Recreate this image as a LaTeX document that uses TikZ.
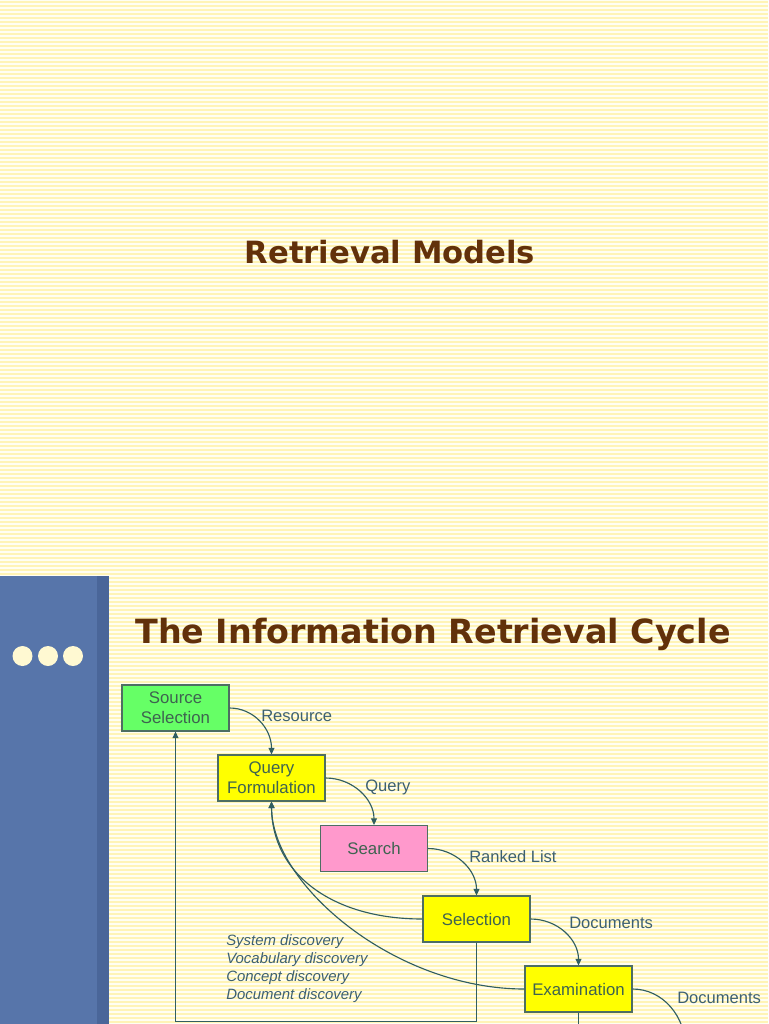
\documentclass[tikz,border=0pt]{standalone}
\usepackage{fontspec}
\setmainfont{Liberation Sans}
\newfontfamily\titlefont{DejaVu Sans}
\usetikzlibrary{arrows.meta}
\definecolor{bgc}{HTML}{FFFEF2}
\definecolor{stripe}{HTML}{FFF4B6}
\definecolor{barA}{HTML}{5775AA}
\definecolor{barB}{HTML}{4A6699}
\definecolor{dotc}{HTML}{FFF9D2}
\definecolor{titlec}{HTML}{62310A}
\definecolor{linec}{HTML}{315E60}
\definecolor{boxline}{HTML}{4E6E62}
\definecolor{boxtext}{HTML}{3E6350}
\definecolor{labtext}{HTML}{3D6070}
\definecolor{greenbox}{HTML}{66FF66}
\definecolor{yellowbox}{HTML}{FFFF00}
\definecolor{pinkbox}{HTML}{FF99CC}
\begin{document}
\begin{tikzpicture}[x=0.75pt,y=-0.75pt,
  box/.style={draw=boxline, line width=0.8pt, minimum width=80.25pt, minimum height=34.5pt,
    inner sep=0pt, align=center, font=\fontsize{12.6}{15}\selectfont, text=boxtext},
  lab/.style={anchor=west, inner sep=0pt, font=\fontsize{12.4}{15}\selectfont, text=labtext},
  disc/.style={anchor=west, inner sep=0pt, font=\fontsize{11.2}{13.5}\selectfont\itshape, text=labtext},
  arr/.style={draw=linec, line width=0.85pt, -{Triangle[length=5pt,width=4.5pt]}},
  plain/.style={draw=linec, line width=0.85pt},
  ttl/.style={inner sep=0pt, font=\titlefont\bfseries\fontsize{23}{28}\selectfont, text=titlec}]
\useasboundingbox (0,0) rectangle (768,1024);
\clip (0,0) rectangle (768,1024);
% background
\fill[bgc] (0,0) rectangle (768,1024);
\foreach \i in {0,...,255} \fill[stripe] (0,{4*\i+1}) rectangle (768,{4*\i+2.8});
% top slide title
\node[ttl] (t1) at (390,252) {Retrieval Models};
% side bar of second slide
\fill[barA] (0,576) rectangle (97,1024);
\fill[barB] (97,576) rectangle (109,1024);
\fill[dotc] (22.5,656) circle (10);
\fill[dotc] (48,656) circle (10);
\fill[dotc] (73,656) circle (10);
\node[ttl, font=\titlefont\bfseries\fontsize{25}{30}\selectfont] (t2) at (433,634) {The Information Retrieval Cycle};
% boxes
\node[box, fill=greenbox] (src) at (175.5,708) {Source\\Selection};
\node[box, fill=yellowbox] (qf) at (271.5,778) {Query\\Formulation};
\node[box, fill=pinkbox] (srch) at (374,848.5) {Search};
\node[box, fill=yellowbox] (sel) at (476.5,919) {Selection};
\node[box, fill=yellowbox] (exam) at (578.5,989) {Examination};
\coordinate (offend) at (686,1050);
\coordinate (offexam) at (578.5,1040);
% forward arrows
\draw[arr] (src.east) .. controls +(24,0) and +(0,-26) .. (qf.north);
\draw[arr] (qf.east) .. controls +(27,0) and +(0,-26) .. (srch.north);
\draw[arr] (srch.east) .. controls +(27,0) and +(0,-26) .. (sel.north);
\draw[arr] (sel.east) .. controls +(27,0) and +(0,-26) .. (exam.north);
\draw[plain] (exam.east) .. controls +(30,0) and +(0,-34) .. (offend);
\draw[plain] (exam.south) -- (offexam);
% feedback
\draw[arr] (sel.south) -- ++(0,79) -| (src.south);
\draw[arr] (sel.west) .. controls (330,919) and (272,872) .. (qf.south);
\draw[arr] (exam.west) .. controls (395,989) and (272,885) .. (qf.south);
% labels
\node[lab] (l1) at (261,716) {Resource};
\node[lab] (l2) at (365,787) {Query};
\node[lab] (l3) at (469,857) {Ranked List};
\node[lab] (l4) at (569,923) {Documents};
\node[lab] (l5) at (677,998) {Documents};
\node[disc] (d1) at (226,941.5) {System discovery};
\node[disc] (d2) at (226,959.5) {Vocabulary discovery};
\node[disc] (d3) at (226,977.5) {Concept discovery};
\node[disc] (d4) at (226,995.5) {Document discovery};
\end{tikzpicture}
\end{document}
